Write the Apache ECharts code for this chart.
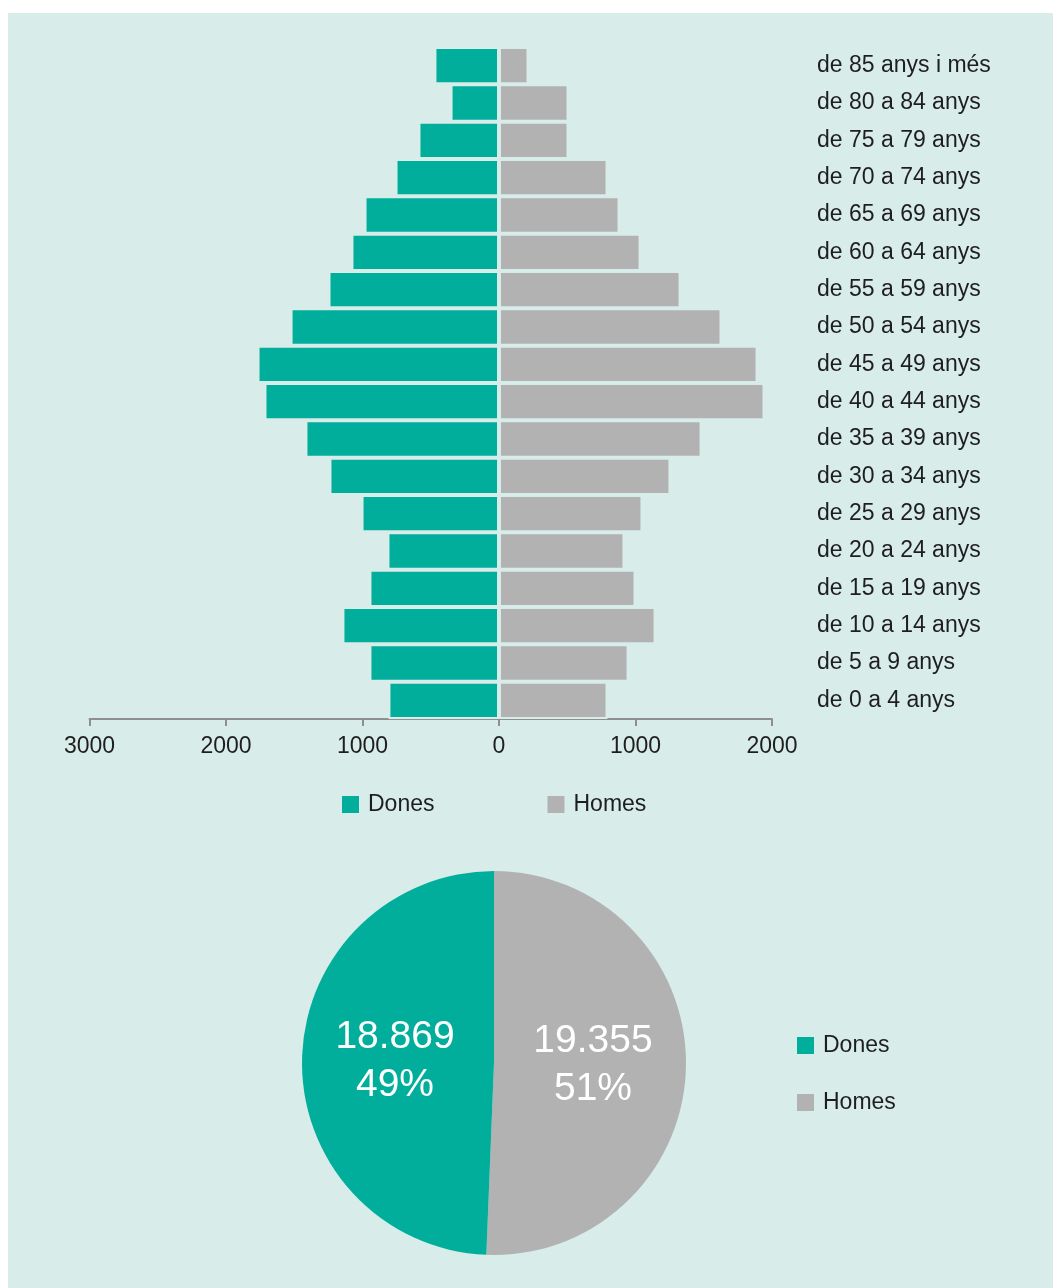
<!DOCTYPE html>
<html>
<head>
<meta charset="utf-8">
<title>Població per edat i sexe</title>
<script src="https://cdn.jsdelivr.net/npm/echarts@6/dist/echarts.min.js"></script>
<style>
  html, body { margin: 0; padding: 0; background: #ffffff; }
  #chart { width: 1053px; height: 1288px; }
</style>
</head>
<body>
<div id="chart"></div>
<script>
// Age groups, bottom to top
const ageGroups = [
  'de 0 a 4 anys', 'de 5 a 9 anys', 'de 10 a 14 anys', 'de 15 a 19 anys',
  'de 20 a 24 anys', 'de 25 a 29 anys', 'de 30 a 34 anys', 'de 35 a 39 anys',
  'de 40 a 44 anys', 'de 45 a 49 anys', 'de 50 a 54 anys', 'de 55 a 59 anys',
  'de 60 a 64 anys', 'de 65 a 69 anys', 'de 70 a 74 anys', 'de 75 a 79 anys',
  'de 80 a 84 anys', 'de 85 anys i més'
];

// Women per age group (same order)
const dones = [810, 949, 1147, 949, 817, 1007, 1242, 1418, 1718, 1769, 1527, 1249, 1081, 985, 758, 590, 355, 473];

// Men per age group (same order)
const homes = [795, 949, 1147, 1000, 919, 1051, 1256, 1484, 1945, 1894, 1630, 1330, 1037, 883, 795, 509, 509, 216];

// Totals by sex
const totalDones = 18869;
const totalHomes = 19355;

const xTicks = { min: -3000, max: 2000, step: 1000 };

const TEAL = '#00AE9B';
const GREY = '#B2B2B2';
const PANEL = '#D8ECE9';
const TEXT = '#1e1e1e';
const FONT = '"Liberation Sans", Arial, sans-serif';

function thousands(n) {
  return String(n).replace(/\B(?=(\d{3})+(?!\d))/g, '.');
}

const legendBase = {
  data: ['Dones', 'Homes'],
  padding: 0,
  icon: 'rect',
  itemWidth: 17,
  itemHeight: 17,
  itemStyle: { borderWidth: 0 },
  textStyle: { color: TEXT, fontSize: 23, fontFamily: FONT, padding: [0, 0, 0, 4] }
};

const chart = echarts.init(document.getElementById('chart'), null, { renderer: 'canvas' });

chart.setOption({
  animation: false,
  textStyle: { fontFamily: FONT },
  graphic: [{
    type: 'rect',
    z: -10,
    silent: true,
    shape: { x: 8, y: 13, width: 1045, height: 1275 },
    style: { fill: PANEL }
  }],
  grid: { left: 89.5, right: 281, top: 47, bottom: 569, containLabel: false },
  xAxis: {
    type: 'value',
    min: xTicks.min,
    max: xTicks.max,
    interval: xTicks.step,
    axisLine: { show: true, lineStyle: { color: '#8f8f8f', width: 2 } },
    axisTick: { show: true, length: 7, lineStyle: { color: '#8f8f8f', width: 2 } },
    splitLine: { show: false },
    axisLabel: {
      formatter: v => String(Math.abs(v)),
      color: TEXT,
      fontSize: 23,
      fontFamily: FONT,
      margin: 16
    }
  },
  yAxis: {
    type: 'category',
    data: ageGroups,
    position: 'right',
    axisLine: { show: false },
    axisTick: { show: false },
    splitLine: { show: false },
    axisLabel: {
      align: 'left',
      margin: 45,
      color: TEXT,
      fontSize: 23,
      fontFamily: FONT
    }
  },
  legend: [
    Object.assign({}, legendBase, { left: 342, top: 793, itemGap: 113 }),
    Object.assign({}, legendBase, { orient: 'vertical', left: 797, top: 1034, itemGap: 34 })
  ],
  series: [
    {
      name: 'Dones',
      type: 'bar',
      stack: 'piramide',
      barCategoryGap: '0%',
      data: dones.map(v => -v),
      itemStyle: { color: TEAL, borderColor: PANEL, borderWidth: 2 },
      emphasis: { disabled: true }
    },
    {
      name: 'Homes',
      type: 'bar',
      stack: 'piramide',
      barCategoryGap: '0%',
      data: homes,
      itemStyle: { color: GREY, borderColor: PANEL, borderWidth: 2 },
      emphasis: { disabled: true }
    },
    {
      name: 'Sexe',
      type: 'pie',
      center: [494, 1063],
      radius: 192,
      startAngle: 90,
      clockwise: true,
      percentPrecision: 0,
      data: [
        { name: 'Homes', value: totalHomes, itemStyle: { color: GREY } },
        { name: 'Dones', value: totalDones, itemStyle: { color: TEAL } }
      ],
      label: {
        show: true,
        position: 'inside',
        formatter: p => thousands(p.value) + '\n' + p.percent + '%',
        color: '#ffffff',
        fontSize: 39,
        lineHeight: 48,
        fontFamily: FONT,
        align: 'center'
      },
      labelLine: { show: false },
      emphasis: { disabled: true }
    }
  ]
});
</script>
</body>
</html>
